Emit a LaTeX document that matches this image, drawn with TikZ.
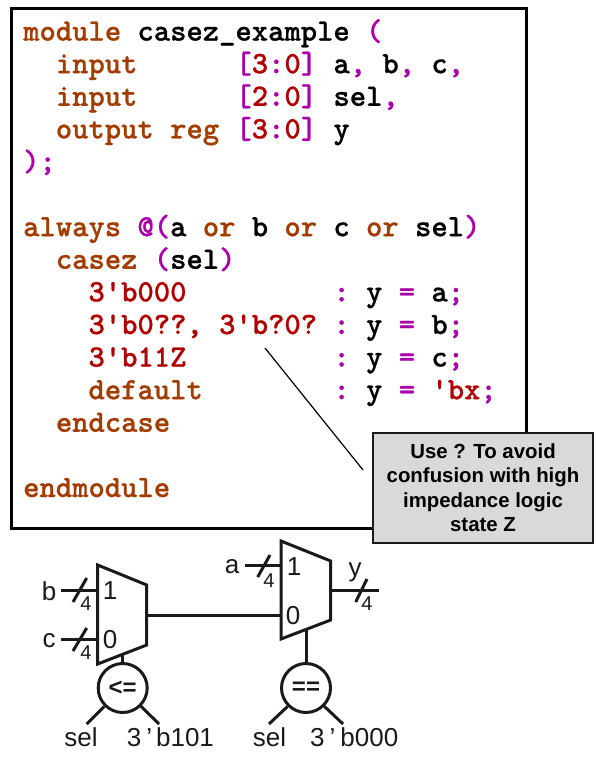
\documentclass[tikz,border=0pt]{standalone}
\usepackage{fontspec}
\setmainfont{Liberation Sans}
\newfontfamily\codefont{lmmonolt10-bold.otf}[FakeBold=0.7]
\definecolor{kwc}{HTML}{A33C00}
\definecolor{puc}{HTML}{AA00AA}
\definecolor{rdc}{HTML}{B00000}
\definecolor{inkc}{HTML}{1A1A1A}
\newcommand\kw[1]{{\color{kwc}#1}}
\newcommand\pu[1]{{\color{puc}#1}}
\newcommand\rd[1]{{\color{rdc}#1}}
\newcommand\gap[1]{\hspace*{#1\dimexpr 16.33pt\relax}}
\newcommand\bus[1]{\pu{[}\rd{#1}\pu{:}\rd{0}\pu{]}}
\tikzset{
  codeline/.style={anchor=base west,inner sep=0pt,font=\fontsize{31.1}{31.1}\selectfont\codefont,text=black},
  wire/.style={draw=inkc,line width=3pt},
  muxbody/.style={draw=inkc,line width=3pt,line join=miter},
  lab/.style={inner sep=0pt,text=inkc,font=\fontsize{26}{26}\selectfont},
  baselab/.style={lab,anchor=base},
  wid/.style={inner sep=0pt,text=inkc,font=\fontsize{20}{20}\selectfont},
  cmp/.style={circle,draw=inkc,line width=3pt,minimum size=49pt,inner sep=0pt,text=inkc,font=\fontsize{24}{24}\selectfont\bfseries},
  callout/.style={draw=inkc,line width=1.2pt,fill=black!15,minimum width=220pt,minimum height=110pt,inner sep=0pt,align=center,
    font=\fontsize{20.4}{24.7}\selectfont\bfseries,text=black}
}
\begin{document}
\begin{tikzpicture}[x=1pt,y=-1pt]
\useasboundingbox (0,0) rectangle (595,776);
% code frame
\draw[draw=black,line width=3pt,fill=white] (11,8.5) rectangle (526,528);
\node[codeline] (l1) at (23,40.6) {\kw{module}\gap{1}casez\_example\gap{1}\pu{(}};
\node[codeline] (l2) at (23,73.2) {\gap{2}\kw{input}\gap{6}\bus{3}\gap{1}a\pu{,}\gap{1}b\pu{,}\gap{1}c\pu{,}};
\node[codeline] (l3) at (23,105.8) {\gap{2}\kw{input}\gap{6}\bus{2}\gap{1}sel\pu{,}};
\node[codeline] (l4) at (23,138.4) {\gap{2}\kw{output}\gap{1}\kw{reg}\gap{1}\bus{3}\gap{1}y};
\node[codeline] (l5) at (23,171) {\pu{);}};
\node[codeline] (l7) at (23,236.2) {\kw{always}\gap{1}\pu{@(}a\gap{1}\kw{or}\gap{1}b\gap{1}\kw{or}\gap{1}c\gap{1}\kw{or}\gap{1}sel\pu{)}};
\node[codeline] (l8) at (23,268.8) {\gap{2}\kw{casez}\gap{1}\pu{(}sel\pu{)}};
\node[codeline] (l9) at (23,301.4) {\gap{4}\rd{3'b000}\gap{9}\pu{:}\gap{1}y\gap{1}\pu{=}\gap{1}a\pu{;}};
\node[codeline] (l10) at (23,334) {\gap{4}\rd{3'b0??,}\gap{1}\rd{3'b?0?}\gap{1}\pu{:}\gap{1}y\gap{1}\pu{=}\gap{1}b\pu{;}};
\node[codeline] (l11) at (23,366.6) {\gap{4}\rd{3'b11Z}\gap{9}\pu{:}\gap{1}y\gap{1}\pu{=}\gap{1}c\pu{;}};
\node[codeline] (l12) at (23,399.2) {\gap{4}\kw{default}\gap{8}\pu{:}\gap{1}y\gap{1}\pu{=}\gap{1}\rd{'bx}\pu{;}};
\node[codeline] (l13) at (23,431.8) {\gap{2}\kw{endcase}};
\node[codeline] (l15) at (23,497) {\kw{endmodule}};
% callout
\node[callout] (note) at (483,488) {\raisebox{-1pt}{Use ? To avoid}\\confusion with high\\impedance logic\\state Z};
\coordinate (noteA) at (265,348);
\coordinate (noteB) at (363,470);
\draw[black,line width=1.2pt] (noteA) -- (noteB);
% mux 1
\coordinate (m1a) at (97.7,565);
\coordinate (m1b) at (146.7,585);
\coordinate (m1c) at (146.7,645);
\coordinate (m1d) at (97.7,664);
\draw[muxbody] (m1a) -- (m1b) -- (m1c) -- (m1d) -- cycle;
\coordinate (m1in1) at (97.7,590);
\coordinate (m1in0) at (97.7,639);
\coordinate (m1out) at (146.7,615);
\coordinate (m1sel) at (122.7,654);
% mux 2
\coordinate (m2a) at (281,541);
\coordinate (m2b) at (330.7,561);
\coordinate (m2c) at (330.7,620);
\coordinate (m2d) at (281,639);
\draw[muxbody] (m2a) -- (m2b) -- (m2c) -- (m2d) -- cycle;
\coordinate (m2in1) at (281,565.7);
\coordinate (m2in0) at (281,615);
\coordinate (m2out) at (330.7,590);
\coordinate (m2sel) at (306,630);
% port labels
\node[lab] (p11) at (110,591) {1};
\node[lab] (p10) at (110,640) {0};
\node[lab] (p21) at (294,567) {1};
\node[lab] (p20) at (293,616) {0};
% signal labels
\node[lab] (lb) at (49,591) {b};
\node[lab] (lc) at (49,641) {c};
\node[lab] (la) at (232,567) {a};
\node[lab] (ly) at (355,572) {y};
% input wires
\coordinate (bw) at (61,590);
\coordinate (cw) at (61,639);
\coordinate (aw) at (245,565.7);
\coordinate (yw) at (379,590);
\draw[wire] (bw) -- (m1in1);
\draw[wire] (cw) -- (m1in0);
\draw[wire] (aw) -- (m2in1);
\draw[wire] (m2out) -- (yw);
\draw[wire] (m1out) -- (m2in0);
% bus slashes
\draw[wire] (73,602) -- (86.7,578);
\draw[wire] (73,651) -- (86.7,628);
\draw[wire] (257.7,577) -- (270,555);
\draw[wire] (355.7,602) -- (367,579);
\node[wid] (w1) at (86,604) {4};
\node[wid] (w2) at (86,653) {4};
\node[wid] (w3) at (269,581) {4};
\node[wid] (w4) at (367,604) {4};
% comparators
\node[cmp] (c1) at (122.7,688) {<=};
\node[cmp] (c2) at (306,688) {==};
\draw[wire] (m1sel) -- (c1);
\draw[wire] (m2sel) -- (c2);
\coordinate (s1) at (86.7,724);
\coordinate (v1) at (159,724);
\coordinate (s2) at (269,724);
\coordinate (v2) at (343,724);
\draw[wire] (c1.225) -- (s1);
\draw[wire] (c1.315) -- (v1);
\draw[wire] (c2.225) -- (s2);
\draw[wire] (c2.315) -- (v2);
\node[baselab] (t1) at (81,746) {sel};
\node[baselab,anchor=base west] (t2) at (126.7,746) {3\hspace{5pt}'\hspace{4pt}b101};
\node[baselab] (t3) at (269.5,746) {sel};
\node[baselab,anchor=base west] (t4) at (310,746) {3\hspace{5pt}'\hspace{5pt}b000};
\end{tikzpicture}
\end{document}
